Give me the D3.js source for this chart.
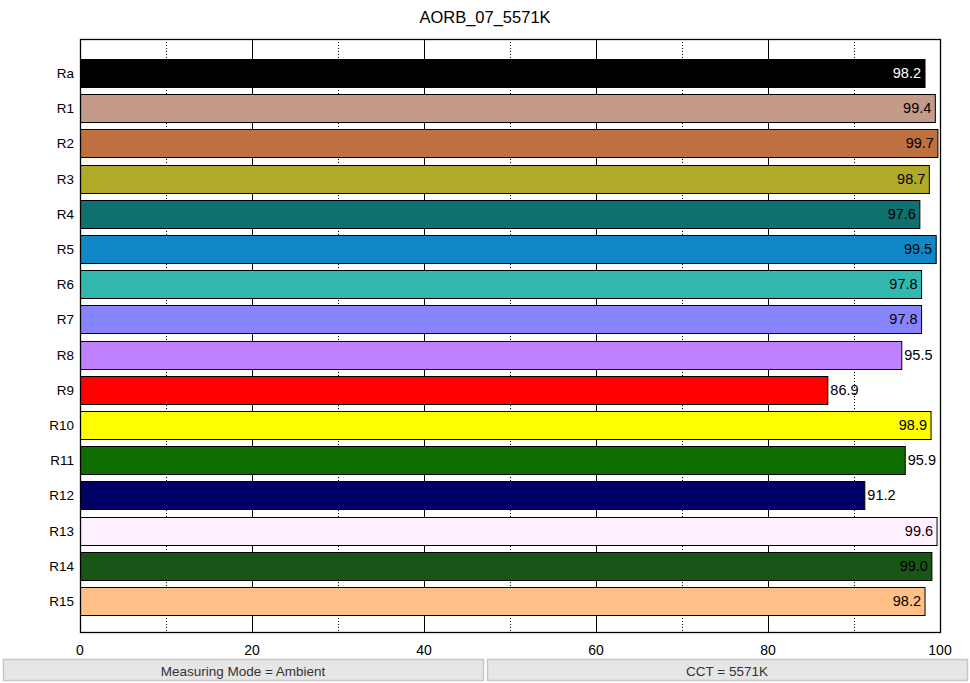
<!DOCTYPE html>
<html>
<head>
<meta charset="utf-8">
<script src="https://cdn.jsdelivr.net/npm/d3@7"></script>
<style>
  body { margin: 0; background: #fff; }
  svg { display: block; font-family: "Liberation Sans", Arial, sans-serif; }
</style>
</head>
<body>
<div id="chart"></div>
<script>
// Data ----------------------------------------------
const categories = ['Ra', 'R1', 'R2', 'R3', 'R4', 'R5', 'R6', 'R7', 'R8', 'R9', 'R10', 'R11', 'R12', 'R13', 'R14', 'R15'];
const values = [98.2, 99.4, 99.7, 98.7, 97.6, 99.5, 97.8, 97.8, 95.5, 86.9, 98.9, 95.9, 91.2, 99.6, 99.0, 98.2];
const barColors = ['#000000', '#c49a88', '#bf7040', '#b0aa28', '#0f7070', '#1088c8', '#33b8b0', '#8884ff',
                   '#bf80ff', '#ff0000', '#ffff00', '#0d6d00', '#000066', '#fff0ff', '#1a5518', '#ffc088'];
const xTicks = [0, 20, 40, 60, 80, 100];
const minorTicks = [10, 30, 50, 70, 90];
const title = 'AORB_07_5571K';
const footerTexts = ['Measuring Mode = Ambient', 'CCT = 5571K'];

// Constants ----------------------------------------------
const width = 970;
const height = 683;
const margin = {left: 80, right: 30, top: 39, bottom: 51};

const svg = d3.select('#chart').append('svg')
  .attr('width', width)
  .attr('height', height);

// Scales ----------------------------------------------
const xScale = d3.scaleLinear()
  .domain([0, 100])
  .range([margin.left, width - margin.right]);

// bars sit a little lower than centred in the frame
const yScale = d3.scaleBand()
  .domain(categories)
  .range([margin.top + 3, height - margin.bottom])
  .paddingInner(0.2)
  .paddingOuter(0.48);

// Title
svg.append('text')
  .attr('x', width / 2)
  .attr('y', 23)
  .attr('text-anchor', 'middle')
  .attr('font-size', 16.5)
  .attr('fill', '#000')
  .text(title);

// Grid lines
const grid = svg.append('g');
grid.selectAll('line.major')
  .data(xTicks.slice(1, -1))
  .enter().append('line')
  .attr('x1', d => xScale(d) + 0.5).attr('x2', d => xScale(d) + 0.5)
  .attr('y1', margin.top).attr('y2', height - margin.bottom)
  .attr('stroke', '#000').attr('stroke-width', 1);
grid.selectAll('line.minor')
  .data(minorTicks)
  .enter().append('line')
  .attr('x1', d => xScale(d) + 0.5).attr('x2', d => xScale(d) + 0.5)
  .attr('y1', margin.top).attr('y2', height - margin.bottom)
  .attr('stroke', '#000').attr('stroke-width', 1)
  .attr('stroke-dasharray', '1,2');

// Bars
svg.append('g')
  .selectAll('rect')
  .data(categories)
  .enter().append('rect')
  .attr('x', xScale(0) + 0.5)
  .attr('y', d => Math.round(yScale(d)) + 0.5)
  .attr('width', (d, i) => xScale(values[i]) - xScale(0))
  .attr('height', Math.round(yScale.bandwidth()))
  .attr('fill', (d, i) => barColors[i])
  .attr('stroke', '#000')
  .attr('stroke-width', 1);

// Value labels: outside if it fits before the right edge, else inside
const labelWidth = 29;
svg.append('g')
  .selectAll('text')
  .data(categories)
  .enter().append('text')
  .each(function (d, i) {
    const end = xScale(values[i]);
    const outside = end + 3 + labelWidth < xScale(100);
    d3.select(this)
      .attr('x', outside ? end + 3 : end - 3.5)
      .attr('text-anchor', outside ? 'start' : 'end')
      .attr('fill', (!outside && i === 0) ? '#fff' : '#000');
  })
  .attr('y', d => Math.round(yScale(d)) + yScale.bandwidth() / 2 + 1.5)
  .attr('dominant-baseline', 'middle')
  .attr('font-size', 14.5)
  .text((d, i) => values[i].toFixed(1));

// Category labels
svg.append('g')
  .selectAll('text')
  .data(categories)
  .enter().append('text')
  .attr('x', margin.left - 6)
  .attr('y', d => Math.round(yScale(d)) + yScale.bandwidth() / 2 + 1.5)
  .attr('text-anchor', 'end')
  .attr('dominant-baseline', 'middle')
  .attr('font-size', 13.5)
  .attr('fill', '#000')
  .text(d => d);

// Frame
svg.append('rect')
  .attr('x', margin.left + 0.5)
  .attr('y', margin.top + 0.5)
  .attr('width', xScale(100) - xScale(0))
  .attr('height', height - margin.bottom - margin.top)
  .attr('fill', 'none')
  .attr('stroke', '#000')
  .attr('stroke-width', 1.3);

// X axis tick labels
svg.append('g')
  .selectAll('text')
  .data(xTicks)
  .enter().append('text')
  .attr('x', d => xScale(d))
  .attr('y', 655)
  .attr('text-anchor', 'middle')
  .attr('font-size', 14)
  .attr('fill', '#000')
  .text(d => d);

// Footer boxes
const boxes = [[3, 483], [487, 967]];
const footer = svg.append('g');
boxes.forEach((b, i) => {
  footer.append('rect')
    .attr('x', b[0] + 0.5).attr('y', 659.5)
    .attr('width', b[1] - b[0]).attr('height', 21)
    .attr('fill', '#e6e6e6')
    .attr('stroke', '#c6c6c6')
    .attr('stroke-width', 1.5);
  footer.append('text')
    .attr('x', (b[0] + b[1]) / 2)
    .attr('y', 672)
    .attr('text-anchor', 'middle')
    .attr('dominant-baseline', 'middle')
    .attr('font-size', 13.5)
    .attr('fill', '#333')
    .text(footerTexts[i]);
});
</script>
</body>
</html>
